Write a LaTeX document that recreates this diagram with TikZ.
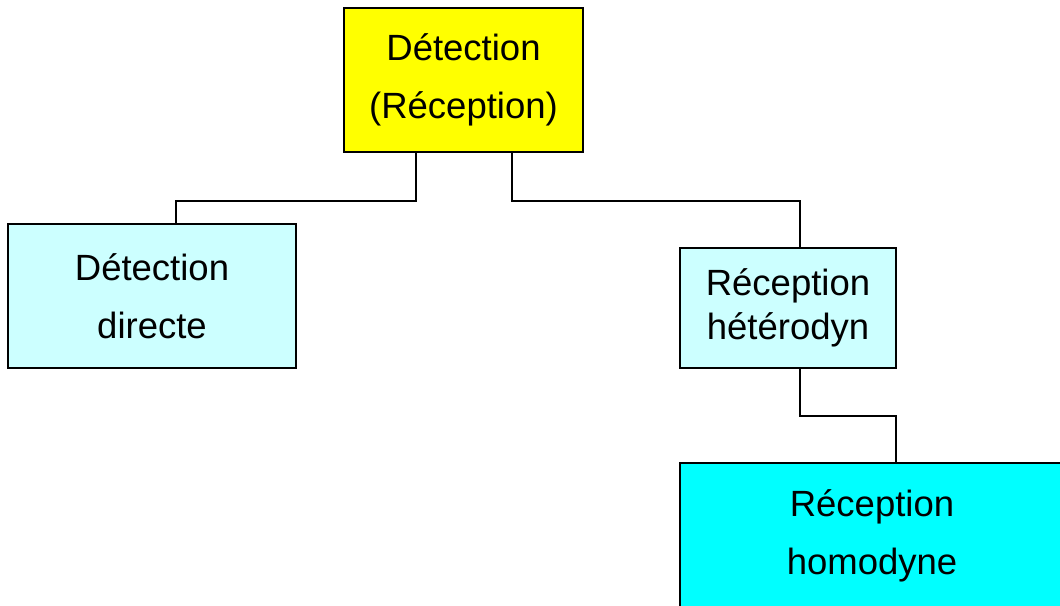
\documentclass[tikz,border=0pt]{standalone}
\usepackage{fontspec}
\setmainfont{Liberation Sans}
\usepackage{xcolor}
\definecolor{topbox}{HTML}{FFFF00}
\definecolor{palecyan}{HTML}{CCFFFF}
\definecolor{fullcyan}{HTML}{00FFFF}
\tikzset{box/.style={draw=black, line width=1.6pt, align=center, inner sep=0pt,
    font=\fontsize{36.5}{58}\selectfont},
    link/.style={draw=black, line width=1.6pt}}

\begin{document}
\begin{tikzpicture}[x=1pt, y=-1pt]
    % Definition of the frame
    \useasboundingbox (0,0) rectangle (1060,605);
    \begin{scope}
    \clip (0,0) rectangle (1060,605);
    % Boxes
    \node[box, fill=topbox, minimum width=239pt, minimum height=144pt] (det) at (463.5,80) {D\'etection\\(R\'eception)};
    \node[box, fill=palecyan, minimum width=288pt, minimum height=144pt] (dir) at (152,296) {D\'etection\\directe};
    \node[box, fill=palecyan, minimum width=216pt, minimum height=120pt,
        font=\fontsize{36.5}{44}\selectfont] (het) at (788,308) {R\'eception\\h\'et\'erodyn};
    \node[box, fill=fullcyan, minimum width=384pt, minimum height=146pt] (hom) at (872,536) {R\'eception\\homodyne};
    %
    \draw[link] ([xshift=-47.5pt]det.south) -- ++(0,48) -| ([xshift=24pt]dir.north);
    \draw[link] ([xshift=48.5pt]det.south) -- ++(0,48) -| ([xshift=12pt]het.north);
    \draw[link] ([xshift=12pt]het.south) -- ++(0,47) -| ([xshift=24pt]hom.north);
    \end{scope}
\end{tikzpicture}
\end{document}
